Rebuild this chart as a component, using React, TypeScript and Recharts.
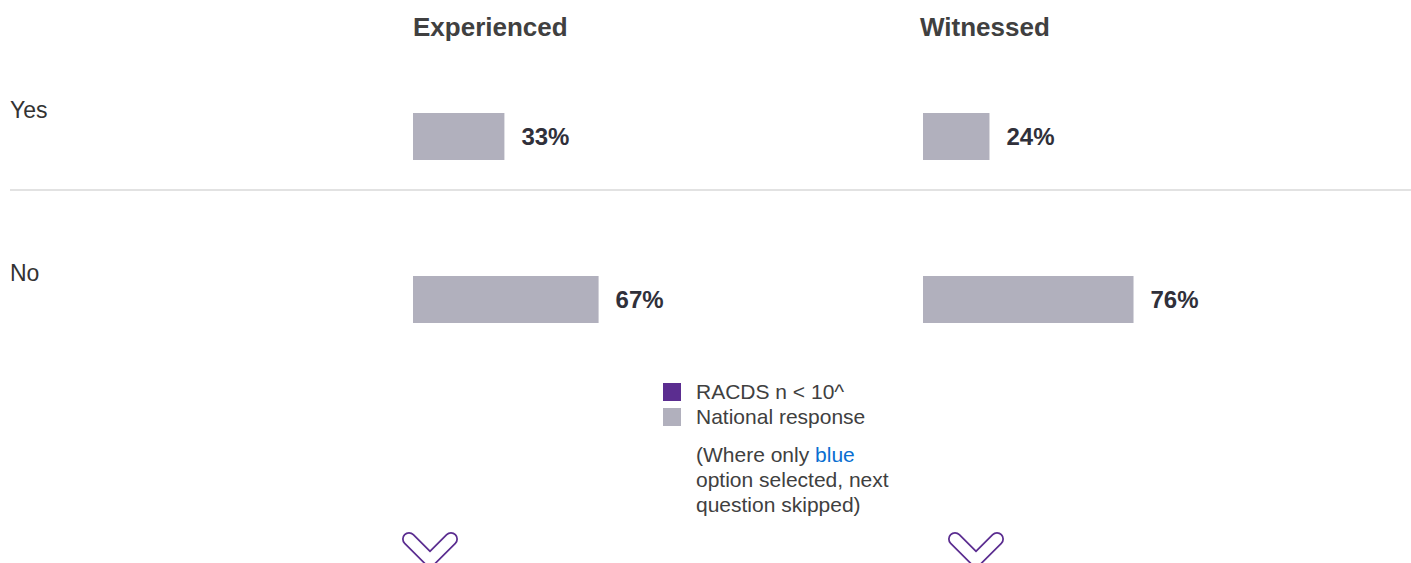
import React from 'react';
import { BarChart, Bar, XAxis, YAxis } from 'recharts';

// row categories and the two series (percent of national responses)
const categories = ['Yes', 'No'];
const experienced = [33, 67];
const witnessed = [24, 76];
const columnTitles = ['Experienced', 'Witnessed'];
const legendItems = ['RACDS n < 10^', 'National response'];

const data = categories.map((category, i) => ({
  category,
  experienced: experienced[i],
  witnessed: witnessed[i]
}));

const FONT = '"Liberation Sans", Arial, Helvetica, sans-serif';
const BAR_GREY = '#b1b0bd';
const PURPLE = '#5b2d90';
const TEXT_DARK = '#30303a';

const RowTick = (props: any) => {
  const { y, payload } = props;
  return (
    <text
      x={10}
      y={y - 27}
      dominantBaseline="central"
      fontSize={23}
      fontFamily={FONT}
      fill="#333"
    >
      {payload.value}
    </text>
  );
};

const barLabel = {
  position: 'right' as const,
  offset: 17,
  fill: TEXT_DARK,
  fontSize: 24,
  fontWeight: 'bold',
  fontFamily: FONT,
  formatter: (v: any) => `${v}%`
};

const Chevron: React.FC<{ cx: number }> = ({ cx }) => {
  const d = `M ${cx - 21} 539 L ${cx} 560 L ${cx + 21} 539`;
  return (
    <g>
      <path d={d} fill="none" stroke={PURPLE} strokeWidth={14} strokeLinecap="round" strokeLinejoin="round" />
      <path d={d} fill="none" stroke="#fff" strokeWidth={10.5} strokeLinecap="round" strokeLinejoin="round" />
    </g>
  );
};

const App: React.FC = () => {
  return (
    <div
      style={{
        position: 'absolute',
        left: 0,
        top: 0,
        width: 1411,
        height: 563,
        overflow: 'hidden',
        background: '#fff',
        fontFamily: FONT
      }}
    >
      {/* column headers */}
      {columnTitles.map((title, i) => (
        <div
          key={title}
          style={{
            position: 'absolute',
            left: i === 0 ? 413 : 920,
            top: 10,
            fontSize: 26,
            fontWeight: 'bold',
            color: '#404040',
            lineHeight: '34px'
          }}
        >
          {title}
        </div>
      ))}

      {/* separator between rows */}
      <div style={{ position: 'absolute', left: 10, top: 189, width: 1401, height: 2, background: '#e2e2e2' }} />

      {/* Experienced */}
      <div style={{ position: 'absolute', left: 0, top: 0 }}>
        <BarChart
          width={800}
          height={381}
          data={data}
          layout="vertical"
          margin={{ top: 55, right: 110, left: 0, bottom: 0 }}
        >
          <XAxis type="number" domain={[0, 100]} hide />
          <YAxis
            type="category"
            dataKey="category"
            width={413}
            axisLine={false}
            tickLine={false}
            tick={<RowTick />}
          />
          <Bar dataKey="experienced" fill={BAR_GREY} barSize={47} isAnimationActive={false} label={barLabel} />
        </BarChart>
      </div>

      {/* Witnessed */}
      <div style={{ position: 'absolute', left: 923, top: 0 }}>
        <BarChart
          width={400}
          height={381}
          data={data}
          layout="vertical"
          margin={{ top: 55, right: 123, left: 0, bottom: 0 }}
        >
          <XAxis type="number" domain={[0, 100]} hide />
          <YAxis type="category" dataKey="category" hide />
          <Bar dataKey="witnessed" fill={BAR_GREY} barSize={47} isAnimationActive={false} label={barLabel} />
        </BarChart>
      </div>

      {/* legend */}
      <div style={{ position: 'absolute', left: 663, top: 379, fontSize: 21, color: '#404040' }}>
        {legendItems.map((item, i) => (
          <div key={item} style={{ display: 'flex', alignItems: 'center', height: 25 }}>
            <span
              style={{
                display: 'inline-block',
                width: 18,
                height: 18,
                background: i === 0 ? PURPLE : BAR_GREY,
                marginRight: 15
              }}
            />
            <span>{item}</span>
          </div>
        ))}
        <div style={{ marginLeft: 33, marginTop: 13, lineHeight: '25px' }}>
          (Where only <span style={{ color: '#0a6ed1' }}>blue</span>
          <br />
          option selected, next
          <br />
          question skipped)
        </div>
      </div>

      {/* scroll chevrons */}
      <svg width={1411} height={563} style={{ position: 'absolute', left: 0, top: 0, pointerEvents: 'none' }}>
        <Chevron cx={430} />
        <Chevron cx={976} />
      </svg>
    </div>
  );
};

export default App;
